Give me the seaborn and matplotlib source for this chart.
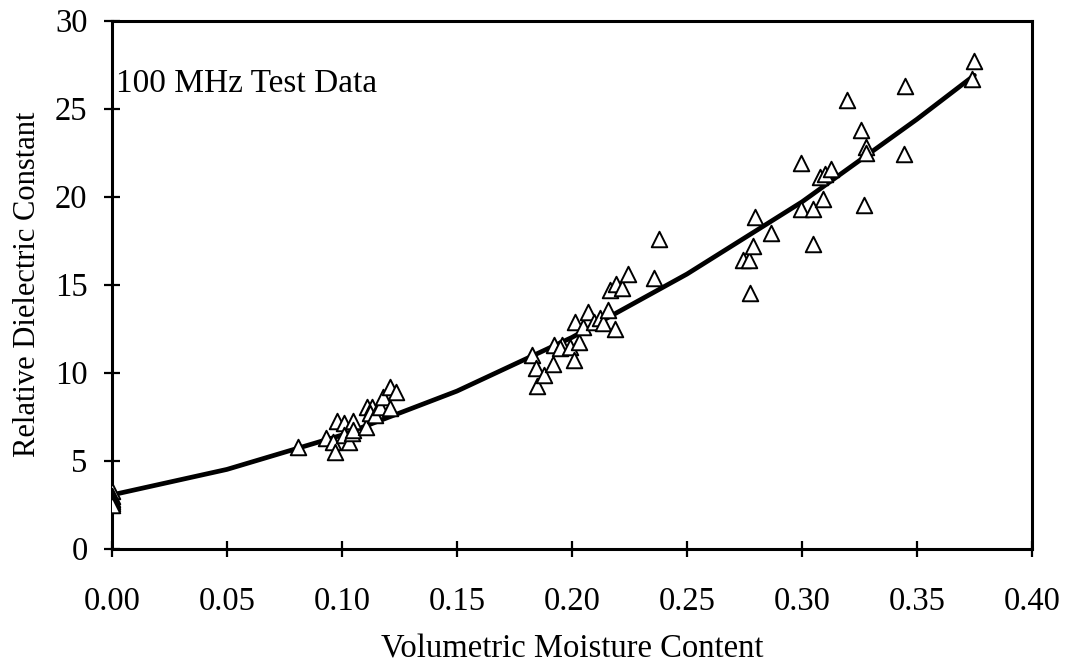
import numpy as np
import pandas as pd
import matplotlib
matplotlib.use("Agg")
import matplotlib.pyplot as plt
import seaborn as sns

# Measured volumetric moisture content and relative dielectric constant (100 MHz)
moisture = [
    0.0, 0.0, 0.0, 0.0, 0.0, 0.0,
    0.081, 0.093, 0.096, 0.097, 0.098, 0.101, 0.1007, 0.103, 0.1043, 0.105, 0.105,
    0.1106, 0.1109, 0.113, 0.1123, 0.1145, 0.1166, 0.118, 0.121, 0.1236, 0.1207,
    0.1826, 0.1845, 0.1848, 0.1877, 0.1917, 0.192, 0.1957, 0.195, 0.1993, 0.2007,
    0.2029, 0.2014, 0.205, 0.2072, 0.2094, 0.212, 0.2137, 0.2155, 0.2188, 0.2166,
    0.2193, 0.2217, 0.2246, 0.2355, 0.2377,
    0.2775, 0.2743, 0.2768, 0.2787, 0.2797, 0.2865, 0.2996, 0.2996, 0.305, 0.305,
    0.309, 0.3077, 0.310, 0.3127, 0.3198, 0.3268, 0.3257, 0.328, 0.328, 0.3449,
    0.3442, 0.3749, 0.3739,
]
dielectric = [
    3.3, 3.0, 2.8, 2.7, 2.6, 2.5,
    5.75, 6.27, 6.08, 5.5, 7.27, 7.12, 6.46, 6.08, 6.55, 7.27, 6.74,
    6.9, 8.07, 8.07, 7.69, 7.6, 8.07, 8.64, 9.2, 8.92, 7.98,
    11.0, 10.25, 9.26, 9.87, 10.5, 11.57, 11.57, 11.4, 11.48, 10.7,
    11.76, 12.9, 12.6, 13.47, 12.9, 13.09, 12.8, 13.56, 12.47, 14.7,
    15.02, 14.8, 15.6, 15.4, 17.6,
    14.5, 16.4, 16.4, 17.2, 18.83, 17.95, 21.9, 19.3, 19.3, 17.3,
    19.85, 21.1, 21.3, 21.6, 25.5, 19.5, 23.8, 22.8, 22.5, 26.3,
    22.4, 27.7, 26.7,
]

# Calibration curve
curve_moisture = [0.0, 0.05, 0.10, 0.15, 0.20, 0.25, 0.30, 0.35, 0.375]
curve_dielectric = [3.05, 4.5, 6.45, 8.95, 12.0, 15.6, 19.7, 24.4, 26.9]

x_ticks = [0.00, 0.05, 0.10, 0.15, 0.20, 0.25, 0.30, 0.35, 0.40]
y_ticks = [0, 5, 10, 15, 20, 25, 30]

points = pd.DataFrame({"moisture": moisture, "dielectric": dielectric})
curve = pd.DataFrame({"moisture": curve_moisture, "dielectric": curve_dielectric})

sns.set_theme(style="white")
plt.rcParams["font.family"] = ["Liberation Serif", "DejaVu Serif"]

fig = plt.figure(figsize=(10.66, 6.69), dpi=100)
ax = fig.add_axes([0.105, 0.180, 0.863, 0.789])

sns.lineplot(data=curve, x="moisture", y="dielectric", ax=ax,
             color="black", linewidth=3.4, zorder=2, sort=False)
sns.scatterplot(data=points, x="moisture", y="dielectric", ax=ax,
                marker="^", s=125, facecolor="white", edgecolor="black",
                linewidth=1.4, zorder=3)

ax.set_xlim(0, 0.40)
ax.set_ylim(0, 30)
ax.set_xticks(x_ticks)
ax.set_xticklabels([f"{t:.2f}" for t in x_ticks])
ax.set_yticks(y_ticks)
ax.set_yticklabels([str(t) for t in y_ticks])

ax.tick_params(axis="both", which="major", bottom=True, left=True,
               top=False, right=False, direction="inout", length=11,
               width=1.6, labelsize=23.5, colors="black")
ax.tick_params(axis="x", pad=22)
ax.tick_params(axis="y", pad=12)

for side in ["left", "right", "top", "bottom"]:
    ax.spines[side].set_visible(True)
    ax.spines[side].set_color("black")
    ax.spines[side].set_linewidth(2.2)

ax.set_xlabel("Volumetric Moisture Content", fontsize=23.5, labelpad=12, color="black")
ax.set_ylabel("Relative Dielectric Constant", fontsize=22, labelpad=9, color="black")

ax.text(0.004, 0.88, "100 MHz Test Data", transform=ax.transAxes,
        fontsize=24, ha="left", va="center", color="black")

fig.savefig("out.png", dpi=100, facecolor="white")
